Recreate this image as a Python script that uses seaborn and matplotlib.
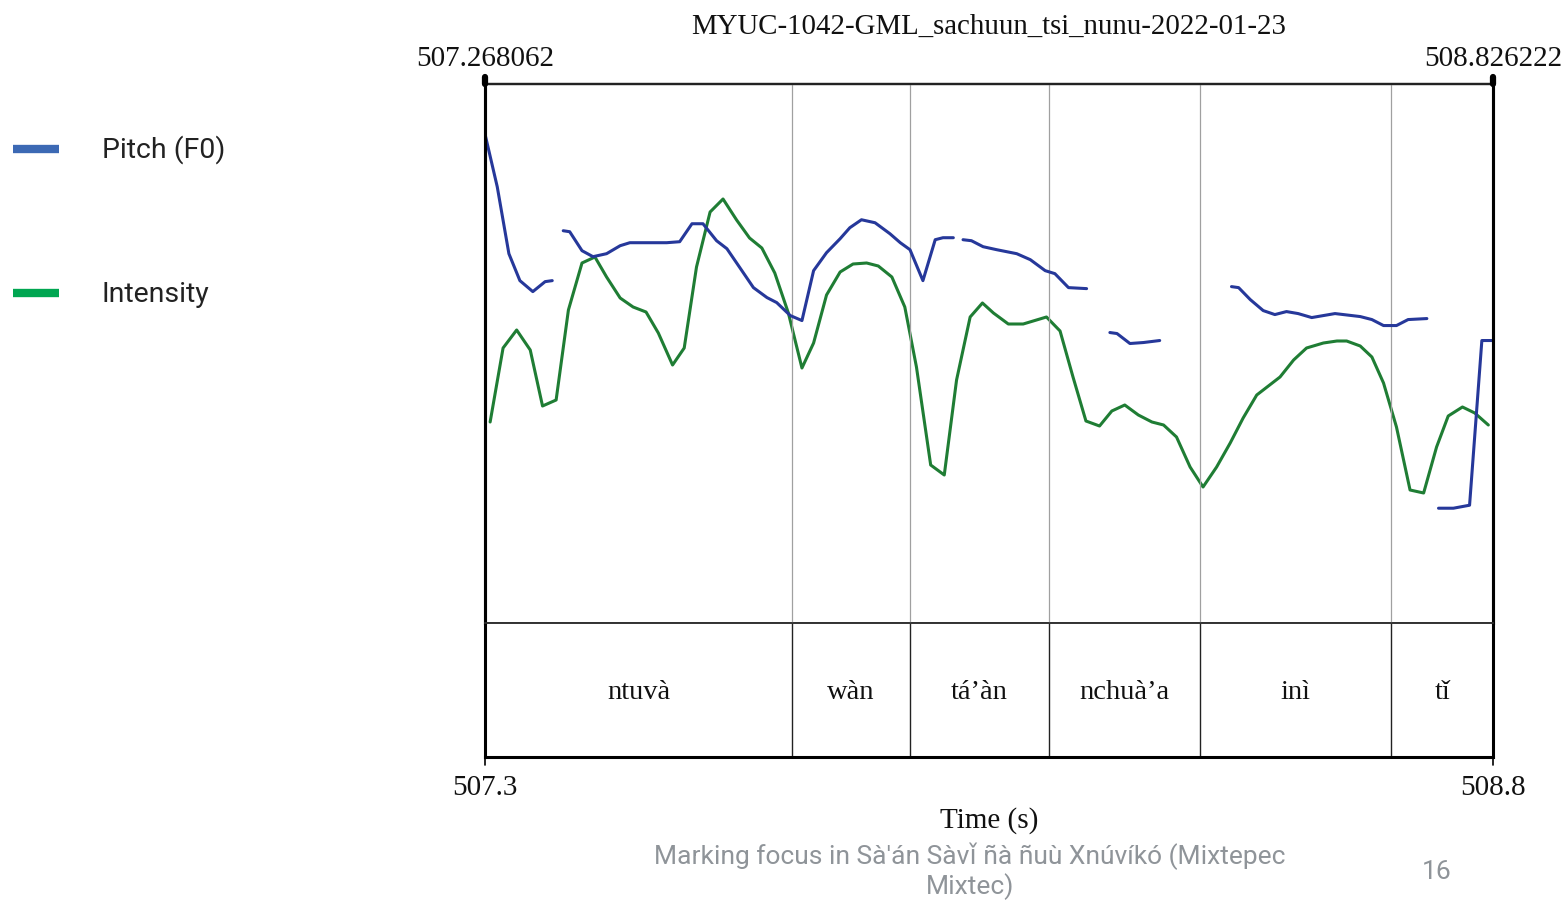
import matplotlib
matplotlib.use("Agg")
import matplotlib.pyplot as plt
import seaborn as sns
import pandas as pd
import numpy as np

sns.set_theme(style="white")
plt.rcParams["font.family"] = ["Liberation Serif", "DejaVu Serif"]

# Time window of the excerpt (s)
t_start = 507.268062
t_end = 508.826222

# Pitch contour (Hz); separate voiced stretches
pitch_seg1_t = [507.268, 507.287, 507.305, 507.322, 507.342, 507.361, 507.372]
pitch_seg1_hz = [345, 318.5, 285, 271.5, 266, 271, 271.5]

pitch_seg2_t = [507.389, 507.399, 507.418, 507.435, 507.456, 507.477, 507.492, 507.518,
                507.549, 507.569, 507.588, 507.605, 507.626, 507.642, 507.662, 507.683,
                507.704, 507.719, 507.740, 507.758, 507.776, 507.796, 507.817, 507.832,
                507.850, 507.871, 507.894, 507.910, 507.925, 507.945, 507.964, 507.976,
                507.992]
pitch_seg2_hz = [296.5, 296, 286.5, 283.5, 285, 289, 290.5, 290.5,
                 290.5, 291, 300, 300, 291.5, 287.5, 278, 268,
                 263, 260.5, 254, 251.5, 276.5, 285.5, 292.5, 298,
                 302, 300.5, 295, 290.5, 287, 271.5, 292, 293,
                 293]

pitch_seg3_t = [508.007, 508.020, 508.038, 508.059, 508.090, 508.111, 508.134, 508.149,
                508.170, 508.198]
pitch_seg3_hz = [292, 291.5, 288.5, 287, 285, 282, 276.5, 275, 268, 267.5]

pitch_seg4_t = [508.234, 508.245, 508.265, 508.286, 508.311]
pitch_seg4_hz = [245.5, 245, 240, 240.5, 241.5]

pitch_seg5_t = [508.422, 508.433, 508.451, 508.471, 508.489, 508.507, 508.525, 508.546,
                508.582, 508.621, 508.639, 508.657, 508.677, 508.695, 508.724]
pitch_seg5_hz = [268.5, 268, 262, 256.5, 254.5, 256, 255, 253,
                 255, 253.5, 252, 249, 249, 252, 252.5]

pitch_seg6_t = [508.742, 508.765, 508.790, 508.809, 508.826]
pitch_seg6_hz = [157.5, 157.5, 159, 241.5, 241.5]

# Intensity contour (dB)
intensity_t = [507.276, 507.296, 507.317, 507.338, 507.357, 507.378, 507.397, 507.418,
               507.438, 507.456, 507.477, 507.497, 507.517, 507.536, 507.558, 507.576,
               507.595, 507.616, 507.636, 507.657, 507.677, 507.696, 507.716, 507.737,
               507.758, 507.776, 507.796, 507.817, 507.837, 507.858, 507.876, 507.897,
               507.917, 507.935, 507.957, 507.978, 507.997, 508.018, 508.037, 508.054,
               508.077, 508.100, 508.136, 508.157, 508.177, 508.197, 508.218, 508.237,
               508.257, 508.278, 508.299, 508.317, 508.337, 508.358, 508.378, 508.399,
               508.420, 508.440, 508.461, 508.497, 508.518, 508.538, 508.564, 508.585,
               508.600, 508.621, 508.639, 508.657, 508.677, 508.698, 508.719, 508.739,
               508.757, 508.779, 508.798, 508.819]
intensity_db = [55.1, 62.5, 64.3, 62.3, 56.7, 57.3, 66.3, 71.0,
                71.6, 69.6, 67.5, 66.6, 66.1, 64.0, 60.8, 62.5,
                70.6, 76.1, 77.4, 75.3, 73.5, 72.5, 70.0, 66.0,
                60.5, 63.0, 67.8, 70.1, 70.9, 71.0, 70.7, 69.6,
                66.6, 60.6, 50.8, 49.8, 59.3, 65.6, 67.0, 66.0,
                64.9, 64.9, 65.6, 64.2, 59.6, 55.2, 54.7, 56.2,
                56.8, 55.8, 55.1, 54.8, 53.6, 50.6, 48.6, 50.6,
                53.0, 55.5, 57.8, 59.6, 61.3, 62.5, 63.0, 63.2,
                63.2, 62.7, 61.6, 59.0, 54.6, 48.3, 48.0, 52.6,
                55.7, 56.6, 56.0, 54.8]

# Word tier
word_bounds = [507.743, 507.925, 508.140, 508.373, 508.669]
words = ["ntuvà", "wàn", "tá’àn", "nchuà’a", "inì", "tǐ"]

pitch_range = (100, 370)
intensity_range = (35, 88.9)

title = "MYUC-1042-GML_sachuun_tsi_nunu-2022-01-23"
footer = "Marking focus in Sà'án Sàvǐ ñà ñuù Xnúvíkó (Mixtepec\nMixtec)"
page_no = "16"

pitch_color = "#26389a"
intensity_color = "#1f7d34"
legend_blue = "#3c69b4"
legend_green = "#00a651"

pitch_segments = [
    (pitch_seg1_t, pitch_seg1_hz), (pitch_seg2_t, pitch_seg2_hz),
    (pitch_seg3_t, pitch_seg3_hz), (pitch_seg4_t, pitch_seg4_hz),
    (pitch_seg5_t, pitch_seg5_hz), (pitch_seg6_t, pitch_seg6_hz),
]
pitch_df = pd.concat(
    [pd.DataFrame({"time": t, "f0": f, "seg": i}) for i, (t, f) in enumerate(pitch_segments)],
    ignore_index=True,
)
int_df = pd.DataFrame({"time": intensity_t, "db": intensity_db})

W, H = 1568, 902
fig = plt.figure(figsize=(W / 100, H / 100), dpi=100)

def fx(px):
    return px / W

def fy(py):
    return 1 - py / H

left, right = 485, 1493
top, mid, bot = 84, 623, 757

ax = fig.add_axes([fx(left), fy(mid), fx(right - left), fy(top) - fy(mid)])
ax_int = ax.twinx()
tier = fig.add_axes([fx(left), fy(bot), fx(right - left), fy(mid) - fy(bot)])

# Word boundaries in the signal panel
for b in word_bounds:
    ax.axvline(b, color="#a0a0a0", lw=0.9, zorder=0)

sns.lineplot(data=int_df, x="time", y="db", ax=ax_int, color=intensity_color,
             lw=2.2, estimator=None, sort=False, legend=False)
sns.lineplot(data=pitch_df, x="time", y="f0", units="seg", ax=ax, color=pitch_color,
             lw=2.2, estimator=None, sort=False, legend=False)

ax.set_zorder(ax_int.get_zorder() + 1)
ax.patch.set_visible(False)

for a, rng in ((ax, pitch_range), (ax_int, intensity_range)):
    a.set_xlim(t_start, t_end)
    a.set_ylim(*rng)
    a.set_xticks([])
    a.set_yticks([])
    a.set_xlabel("")
    a.set_ylabel("")
    a.grid(False)

for a in (ax, ax_int):
    for side in ("left", "right"):
        a.spines[side].set_linewidth(2.2)
        a.spines[side].set_color("black")
    a.spines["top"].set_linewidth(1.6)
    a.spines["top"].set_color("#222222")
    a.spines["bottom"].set_linewidth(1.2)
    a.spines["bottom"].set_color("#333333")

# Word tier panel
tier.set_xlim(t_start, t_end)
tier.set_ylim(0, 1)
tier.set_xticks([])
tier.set_yticks([])
for b in word_bounds:
    tier.axvline(b, color="#222222", lw=1.0)
edges = [t_start] + word_bounds + [t_end]
for w, a0, a1 in zip(words, edges[:-1], edges[1:]):
    tier.text((a0 + a1) / 2, 0.48, w, ha="center", va="center", fontsize=20.5,
              color="#111111")
for side in ("left", "right", "bottom"):
    tier.spines[side].set_linewidth(2.2)
    tier.spines[side].set_color("black")
tier.spines["top"].set_linewidth(1.2)
tier.spines["top"].set_color("#333333")

# End markers above and below the frame
for px in (left, right):
    fig.add_artist(plt.Line2D([fx(px), fx(px)], [fy(top), fy(top - 7)], color="black",
                              lw=4.5, solid_capstyle="round", transform=fig.transFigure))
    fig.add_artist(plt.Line2D([fx(px), fx(px)], [fy(bot), fy(bot + 8)], color="black",
                              lw=1.2, transform=fig.transFigure))

# Labels
fig.text(fx(989), fy(27), title, ha="center", va="center", fontsize=20.8, color="#111111")
fig.text(fx(left), fy(59), f"{t_start:.6f}", ha="center", va="center", fontsize=21,
         color="#111111")
fig.text(fx(right), fy(59), f"{t_end:.6f}", ha="center", va="center", fontsize=21,
         color="#111111")
fig.text(fx(left), fy(788), f"{t_start:.1f}", ha="center", va="center", fontsize=21,
         color="#111111")
fig.text(fx(right), fy(788), f"{t_end:.1f}", ha="center", va="center", fontsize=21,
         color="#111111")
fig.text(fx(989), fy(821), "Time (s)", ha="center", va="center", fontsize=21,
         color="#111111")

# Legend
sans = ["Roboto", "DejaVu Sans"]
for py, label, col in ((149, "Pitch (F0)", legend_blue), (293, "Intensity", legend_green)):
    fig.add_artist(plt.Line2D([fx(13), fx(59)], [fy(py), fy(py)], color=col, lw=6,
                              solid_capstyle="butt", transform=fig.transFigure))
    fig.text(fx(102), fy(py + 1), label, ha="left", va="center", fontsize=20.5,
             color="#222222", family=sans)

# Footer
fig.text(fx(970), fy(871), footer, ha="center", va="center", fontsize=19,
         color="#8f9499", family=sans, linespacing=1.15)
fig.text(fx(1437), fy(872), page_no, ha="center", va="center", fontsize=19,
         color="#8f9499", family=sans)

fig.savefig("out.png", dpi=100, facecolor="white")
